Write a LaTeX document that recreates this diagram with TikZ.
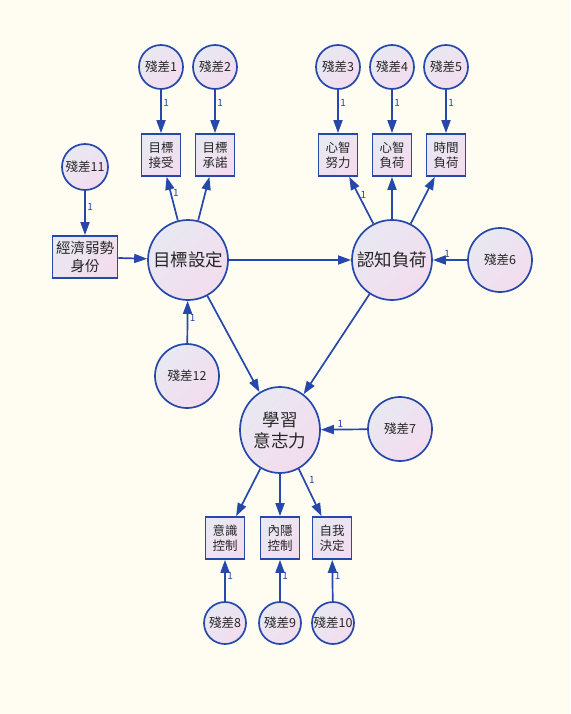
\documentclass[tikz,border=0pt]{standalone}
\usepackage{fontspec}
\setmainfont{Noto Sans CJK TC}
\usetikzlibrary{arrows.meta,shapes.geometric}
\definecolor{pathblue}{RGB}{38,72,170}
\definecolor{fillA}{RGB}{232,233,242}
\definecolor{fillB}{RGB}{243,220,238}
\definecolor{paper}{RGB}{255,253,242}

\begin{document}
\begin{tikzpicture}[x=1pt,y=-1pt,
  base/.style={draw=pathblue,line width=1.7pt,top color=fillA,bottom color=fillB,shading angle=45,
    inner sep=0pt,align=center,text=black!85},
  err/.style={base,circle,minimum size=44pt,font=\fontsize{12.5}{15}\selectfont},
  bigerr/.style={err,minimum size=64pt},
  latent/.style={base,circle,minimum size=80pt,font=\fontsize{17.5}{21}\selectfont},
  obs/.style={base,rectangle,minimum width=39pt,minimum height=42pt,font=\fontsize{12.5}{15}\selectfont},
  path/.style={draw=pathblue,line width=1.7pt,-{Triangle[length=13pt,width=9pt]}},
  one/.style={text=pathblue,font=\fontsize{10}{10}\selectfont,inner sep=1.5pt}]
\fill[paper] (0,0) rectangle (570,714);

\node[latent] (goal) at (188,260) {目標設定};
\node[latent] (load) at (392,260) {認知負荷};
\node[latent,ellipse,minimum width=80pt,minimum height=86pt] (will) at (280,430) {學習\\意志力};
\node[obs,minimum width=65pt,font=\fontsize{14.5}{18}\selectfont] (ses) at (85,257) {經濟弱勢\\身份};

\foreach \n/\x/\t in {acc/161/{目標\\接受}, com/215/{目標\\承諾}, eff/338/{心智\\努力},
  men/392/{心智\\負荷}, tim/446/{時間\\負荷}}
  \node[obs] (\n) at (\x,155) {\t};
\foreach \n/\x/\t in {con/225/{意識\\控制}, imp/280/{內隱\\控制}, det/332/{自我\\決定}}
  \node[obs] (\n) at (\x,538) {\t};

\foreach \i/\x in {1/161, 2/215, 3/338, 4/392, 5/446}
  \node[err] (e\i) at (\x,67) {殘差\i};
\foreach \i/\x in {8/225, 9/280, 10/333}
  \node[err,minimum size=42pt] (e\i) at (\x,623) {殘差\i};
\node[err,minimum size=46pt] (e11) at (85,167) {殘差11};
\node[bigerr] (e6) at (500,260) {殘差6};
\node[bigerr] (e7) at (400,429) {殘差7};
\node[bigerr] (e12) at (187,376) {殘差12};

\foreach \i/\n in {1/acc, 2/com, 3/eff, 4/men, 5/tim}
  \draw[path] (e\i) -- node[one,right,pos=.3] {1} (\n);
\foreach \i/\n in {8/con, 9/imp, 10/det}
  \draw[path] (e\i) -- node[one,right,pos=.62] {1} (\n);
\draw[path] (e11) -- node[one,right,pos=.37] {1} (ses);
\draw[path] (e6) -- node[one,above,pos=.58] {1} (load);
\draw[path] (e7) -- node[one,above,pos=.58] {1} (will);
\draw[path] (e12) -- node[one,right,pos=.6] {1} (goal);

\draw[path] (ses) -- (goal);
\draw[path] (goal) -- node[one,right,pos=.64] {1} (acc);
\draw[path] (goal) -- (com);
\draw[path] (load) -- node[one,right,pos=.62] {1} (eff);
\draw[path] (load) -- (men);
\draw[path] (load) -- (tim);
\draw[path] (goal) -- (load);
\draw[path] (goal) -- (will);
\draw[path] (load) -- (will);
\draw[path] (will) -- (con);
\draw[path] (will) -- (imp);
\draw[path] (will) -- node[one,above right,pos=.35] {1} (det);
\end{tikzpicture}
\end{document}
